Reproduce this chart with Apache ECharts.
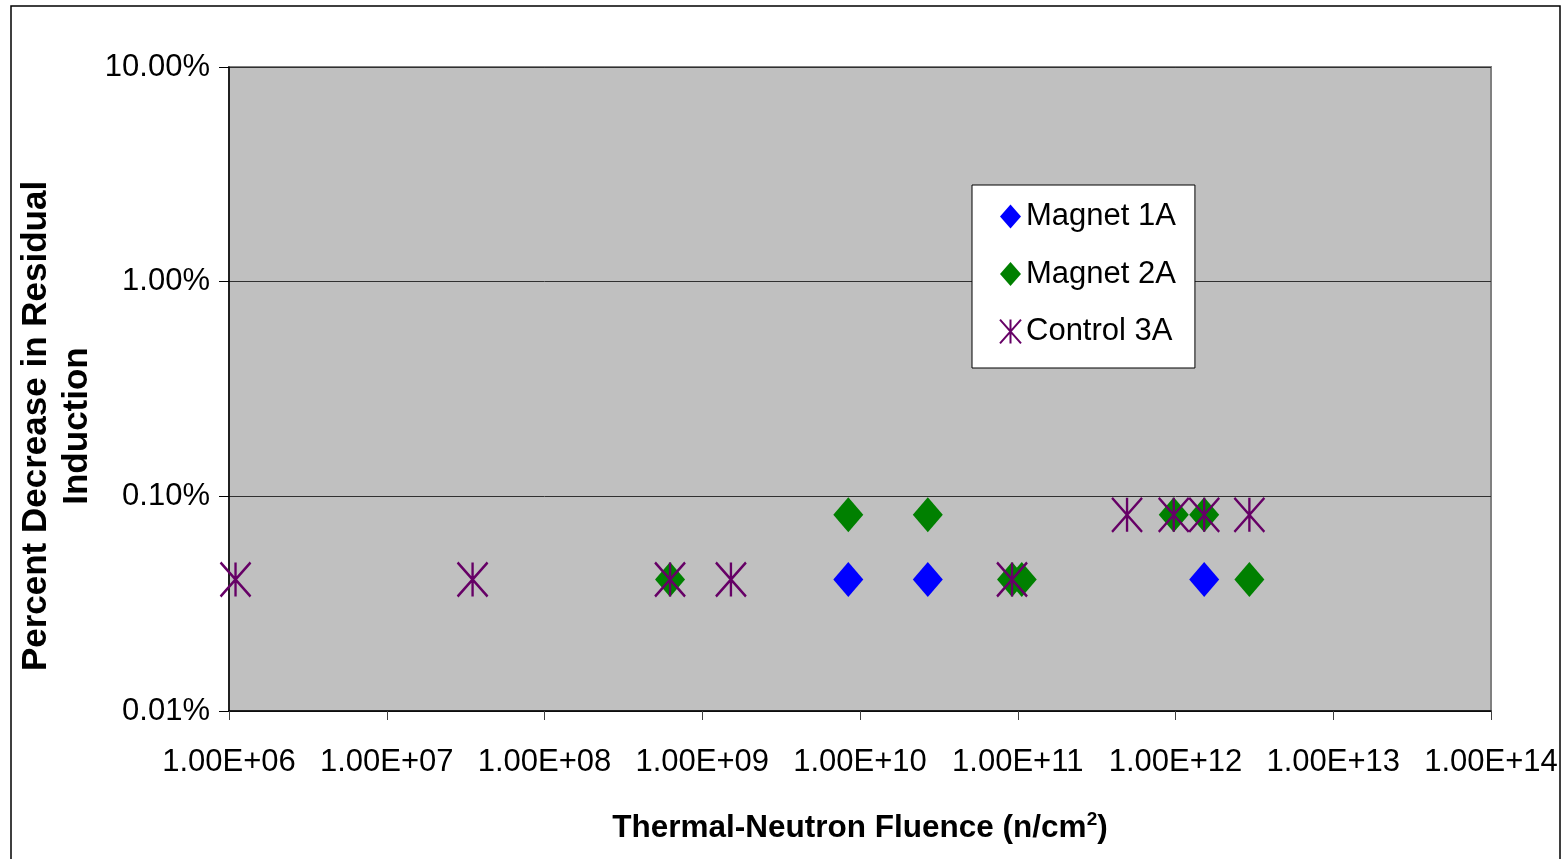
<!DOCTYPE html>
<html>
<head>
<meta charset="utf-8">
<script src="https://cdn.jsdelivr.net/npm/echarts@6/dist/echarts.min.js"></script>
<style>
html,body{margin:0;padding:0;background:#fff;}
#chart{width:1568px;height:859px;}
</style>
</head>
<body>
<div id="chart"></div>
<script>
// Data (fluence n/cm^2, fractional decrease)
const seriesNames = ['Magnet 1A', 'Magnet 2A', 'Control 3A'];
const magnet1A = [[8.43e9, 0.00041], [2.69e10, 0.00041], [1.52e12, 0.00041]];
const magnet2A = [[6.25e8, 0.00041], [8.43e9, 0.00082], [2.69e10, 0.00082], [9.2e10, 0.00041],
                  [1.06e11, 0.00041], [9.75e11, 0.00082], [1.52e12, 0.00082], [2.94e12, 0.00041]];
const control3A = [[1.1e6, 0.00041], [3.5e7, 0.00041], [6.25e8, 0.00041], [1.52e9, 0.00041],
                   [9.2e10, 0.00041], [4.93e11, 0.00082], [9.75e11, 0.00082], [1.52e12, 0.00082], [2.94e12, 0.00082]];
const xTitle = 'Thermal-Neutron Fluence (n/cm';
const yTitleLines = ['Percent Decrease in Residual', 'Induction'];

const FONT = '"Liberation Sans", Arial, sans-serif';
const chart = echarts.init(document.getElementById('chart'));
const asterisk = 'path://M0,0L30,34M30,0L0,34M15,0L15,34';

chart.setOption({
  animation: false,
  backgroundColor: '#ffffff',
  grid: {
    left: 229, top: 67, right: 77, bottom: 148,
    show: true, backgroundColor: '#C0C0C0', borderColor: '#808080', borderWidth: 2
  },
  legend: {
    orient: 'vertical',
    left: 972, top: 185,
    padding: [16, 19, 21, 27],
    itemGap: 26.5,
    itemWidth: 21, itemHeight: 24,
    backgroundColor: '#ffffff',
    borderColor: '#000000', borderWidth: 1,
    textStyle: { fontSize: 31, color: '#000', fontFamily: FONT },
    data: seriesNames
  },
  xAxis: {
    type: 'log', logBase: 10, min: 1e6, max: 1e14, splitNumber: 8,
    axisLine: { lineStyle: { color: '#000', width: 1.5 } },
    axisTick: { show: true, inside: false, length: 9, lineStyle: { color: '#404040' } },
    splitLine: { show: false },
    minorTick: { show: false },
    axisLabel: {
      fontSize: 31, color: '#000', fontFamily: FONT, margin: 36,
      formatter: function (v) {
        const e = Math.round(Math.log10(v));
        return '1.00E+' + (e < 10 ? '0' + e : e);
      }
    }
  },
  yAxis: {
    type: 'log', logBase: 10, min: 0.0001, max: 0.1, splitNumber: 3,
    axisLine: { show: true, lineStyle: { color: '#000', width: 1.5 } },
    axisTick: { show: true, inside: false, length: 10, lineStyle: { color: '#000' } },
    splitLine: { show: true, lineStyle: { color: '#303030', width: 1 } },
    axisLabel: {
      fontSize: 31, color: '#000', fontFamily: FONT, margin: 19,
      formatter: function (v) {
        const e = Math.round(Math.log10(v));
        return (Math.pow(10, e) * 100).toFixed(2) + '%';
      }
    }
  },
  series: [
    { name: seriesNames[0], type: 'scatter', data: magnet1A, symbol: 'diamond', symbolSize: [30, 35],
      itemStyle: { color: '#0000FF', opacity: 1 } },
    { name: seriesNames[1], type: 'scatter', data: magnet2A, symbol: 'diamond', symbolSize: [30, 35],
      itemStyle: { color: '#008000', opacity: 1 } },
    { name: seriesNames[2], type: 'scatter', data: control3A, symbol: asterisk, symbolSize: [30, 34],
      itemStyle: { color: '#660066', borderColor: '#660066', borderWidth: 2.5, opacity: 1 } }
  ],
  graphic: [
    { type: 'rect', silent: true, z: 100,
      shape: { x: 11, y: 6, width: 1549, height: 870 },
      style: { fill: 'none', stroke: '#000', lineWidth: 1.5 } },
    { type: 'text', silent: true, x: 860, y: 828,
      style: {
        text: '{a|' + xTitle + '}{s|2}{a|)}',
        align: 'center', verticalAlign: 'middle',
        rich: {
          a: { fontSize: 31.5, fontWeight: 'bold', fontFamily: FONT, fill: '#000' },
          s: { fontSize: 19, fontWeight: 'bold', fontFamily: FONT, fill: '#000', verticalAlign: 'top', padding: [0, 0, 16, 0] }
        }
      } },
    { type: 'text', silent: true, x: 57, y: 426, rotation: Math.PI / 2,
      style: {
        text: yTitleLines.join('\n'),
        align: 'center', verticalAlign: 'middle',
        fontSize: 35, fontWeight: 'bold', fontFamily: FONT, lineHeight: 41, fill: '#000'
      } }
  ]
});
</script>
</body>
</html>
